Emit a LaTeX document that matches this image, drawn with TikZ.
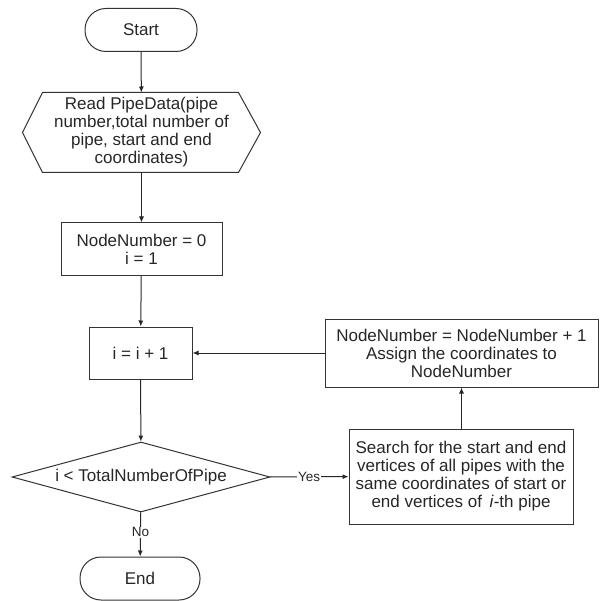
\documentclass[tikz,border=0pt]{standalone}
\usepackage{fontspec}
\setmainfont{Liberation Sans}
\usetikzlibrary{arrows.meta,shapes.geometric}
\begin{document}
\begin{tikzpicture}[x=1pt,y=-1pt,
  line width=1pt,
  every node/.style={font=\fontsize{17}{18}\selectfont, text=black!85},
  boxst/.style={draw=black!80, align=center, inner sep=2pt},
  termst/.style={draw=black!80, rounded corners=21pt, minimum height=43pt},
  arr/.style={draw=black!85, -{Latex[length=6pt,width=5pt]}},
  lbl/.style={font=\fontsize{13.5}{15}\selectfont, fill=white, inner sep=1pt}]
\useasboundingbox (0,0) rectangle (600,601);

\node[termst, minimum width=112pt] (start) at (141,30) {Start};
\node[align=center, minimum width=237pt, minimum height=79pt, inner sep=0pt] (read) at (141.5,132.5)
  {Read PipeData(pipe\\number,total number of\\pipe, start and end\\coordinates)};
\draw[draw=black!80] (read.west) -- ([xshift=20pt]read.north west) -- ([xshift=-22pt]read.north east)
  -- (read.east) -- ([xshift=-22pt]read.south east) -- ([xshift=20pt]read.south west) -- cycle;
\node[boxst, minimum width=161pt, minimum height=52pt] (init) at (141.5,249) {NodeNumber = 0\\i = 1};
\node[boxst, minimum width=103pt, minimum height=52pt] (inc) at (140.5,353) {i = i + 1};
\node[draw=black!80, diamond, aspect=3.7, inner sep=0pt, minimum width=258pt, minimum height=70pt] (dec) at (141,477) {i < TotalNumberOfPipe};
\node[termst, minimum width=120pt] (end) at (140,578.5) {End};
\node[boxst, minimum width=273pt, minimum height=68pt] (upd) at (461.5,353)
  {NodeNumber = NodeNumber + 1\\Assign the coordinates to\\NodeNumber};
\node[boxst, minimum width=224pt, minimum height=95pt] (search) at (461,476.5)
  {Search for the start and end\\vertices of all pipes with the\\same coordinates of start or\\end vertices of \,\textit{i}-th pipe};

\draw[arr] (start) -- (read);
\draw[arr] (read) -- (init);
\draw[arr] (init) -- (inc);
\draw[arr] (inc) -- (dec);
\draw[arr] (dec) -- node[lbl, pos=0.45] {No} (end);
\draw[arr] (dec) -- node[lbl, pos=0.5] {Yes} (search);
\draw[arr] (search.north -| upd.south) -- (upd.south);
\draw[arr] (upd) -- (inc);
\end{tikzpicture}
\end{document}
